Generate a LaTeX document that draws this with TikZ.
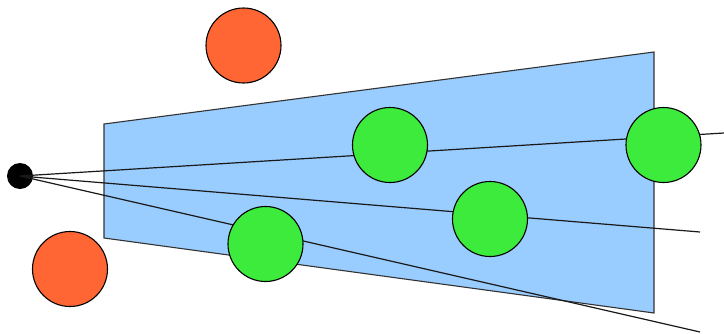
\documentclass[tikz,border=0pt]{standalone}
\usepackage{xcolor}
\usepackage{tikz}

\definecolor{frustumblue}{RGB}{153,204,255}
\definecolor{hitgreen}{RGB}{61,235,61}
\definecolor{missorange}{RGB}{255,102,51}

\begin{document}
\begin{tikzpicture}[
  x=1pt, y=-1pt,
  ball/.style={circle, draw=black, line width=1.1pt, inner sep=0pt, minimum size=75pt},
  inside/.style={ball, fill=hitgreen},
  outside/.style={ball, fill=missorange},
  ray/.style={draw=black!90, line width=1.2pt}]
\useasboundingbox (0,0) rectangle (724,333);
% view volume
\draw[fill=frustumblue, draw=black!80, line width=1.1pt]
  (104,124) -- (654,52) -- (654,313) -- (104,238) -- cycle;
% viewer and rays
\node[circle, fill=black, inner sep=0pt, minimum size=26pt] (eye) at (20,176) {};
\coordinate (rayA) at (724,133);
\coordinate (rayB) at (700,232);
\coordinate (rayC) at (700,332);
\draw[ray] (eye.center) -- (rayA);
\draw[ray] (eye.center) -- (rayB);
\draw[ray] (eye.center) -- (rayC);
% objects
\node[outside] (objA) at (243.5,45.5) {};
\node[outside] (objB) at (70,269) {};
\node[inside]  (objC) at (390,145) {};
\node[inside]  (objD) at (663.5,145) {};
\node[inside]  (objE) at (490,219) {};
\node[inside]  (objF) at (265.5,244) {};
\end{tikzpicture}
\end{document}
